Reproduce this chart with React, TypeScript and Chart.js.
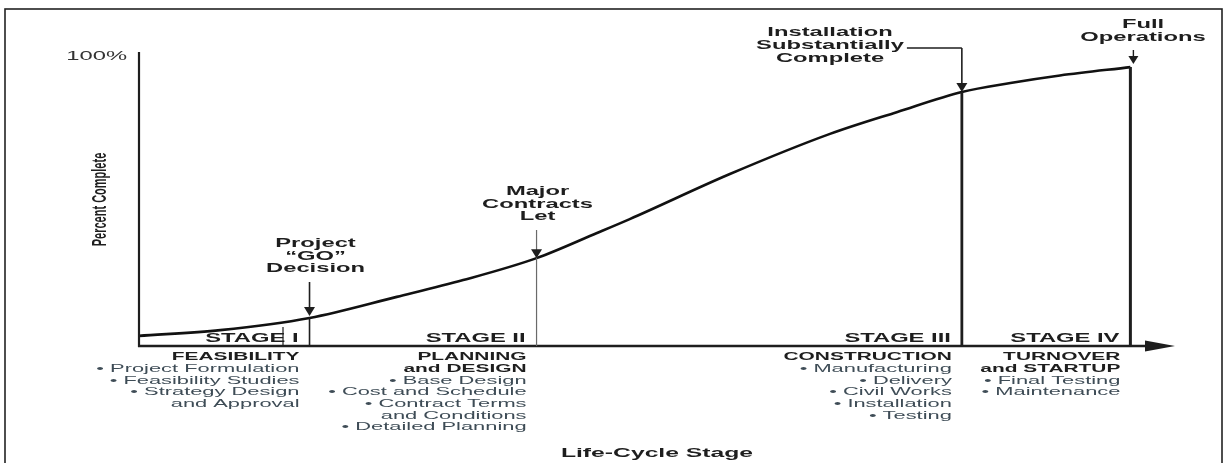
import React, { useEffect, useRef } from "react";
import { Chart, registerables } from "chart.js";

Chart.register(...registerables);

// ---- data ----
const curveX = [0, 8.2, 17.2, 26.0, 32.7, 40.1, 46.2, 49.5, 59.6, 69.7, 76.5, 83.0, 87.9, 92.9, 100];
const curveY = [3.5, 5.5, 9.7, 17.0, 22.8, 30.4, 39.1, 43.9, 59.5, 73.4, 81.0, 87.9, 91.0, 93.6, 96.5];

const milestoneX = [17.2, 40.1, 83.0, 100];
const goLabel = ["Project", "\u201CGO\u201D", "Decision"];
const majorLabel = ["Major", "Contracts", "Let"];
const installLabel = ["Installation", "Substantially", "Complete"];
const fullLabel = ["Full", "Operations"];

const stageLabels = ["STAGE I", "STAGE II", "STAGE III", "STAGE IV"];
const stage1Titles = ["FEASIBILITY"];
const stage1Items = ["\u2022 Project Formulation", "\u2022 Feasibility Studies", "\u2022 Strategy Design", "and Approval"];
const stage2Titles = ["PLANNING", "and DESIGN"];
const stage2Items = ["\u2022 Base Design", "\u2022 Cost and Schedule", "\u2022 Contract Terms", "and Conditions", "\u2022 Detailed Planning"];
const stage3Titles = ["CONSTRUCTION"];
const stage3Items = ["\u2022 Manufacturing", "\u2022 Delivery", "\u2022 Civil Works", "\u2022 Installation", "\u2022 Testing"];
const stage4Titles = ["TURNOVER", "and STARTUP"];
const stage4Items = ["\u2022 Final Testing", "\u2022 Maintenance"];

const yTickLabel = "100%";
const yTitle = "Percent Complete";
const xTitle = "Life-Cycle Stage";

const X_MAX = 104.5;

// ---- drawing helpers ----
const SX = 1.9;
const FONT = '"Liberation Sans", Arial, Helvetica, sans-serif';
const DARK = "#1e1e1e";
const SOFT = "#3e4c56";

function txt(ctx: CanvasRenderingContext2D, s: string, x: number, y: number, size: number, bold: boolean, color: string, align: CanvasTextAlign) {
  ctx.save();
  ctx.translate(x, y);
  ctx.scale(SX, 1);
  ctx.font = `${bold ? "bold " : ""}${size}px ${FONT}`;
  ctx.fillStyle = color;
  ctx.textAlign = align;
  ctx.textBaseline = "middle";
  ctx.fillText(s, 0, 0);
  ctx.restore();
}
function textW(ctx: CanvasRenderingContext2D, s: string, size: number, bold: boolean) {
  ctx.save();
  ctx.font = `${bold ? "bold " : ""}${size}px ${FONT}`;
  const w = ctx.measureText(s).width * SX;
  ctx.restore();
  return w;
}
function line(ctx: CanvasRenderingContext2D, x1: number, y1: number, x2: number, y2: number, w: number, color = DARK) {
  ctx.save();
  ctx.beginPath();
  ctx.moveTo(x1, y1);
  ctx.lineTo(x2, y2);
  ctx.lineWidth = w;
  ctx.strokeStyle = color;
  ctx.stroke();
  ctx.restore();
}
function arrowDown(ctx: CanvasRenderingContext2D, x: number, tipY: number, h = 9, hw = 5.5) {
  ctx.save();
  ctx.beginPath();
  ctx.moveTo(x, tipY);
  ctx.lineTo(x - hw, tipY - h);
  ctx.lineTo(x + hw, tipY - h);
  ctx.closePath();
  ctx.fillStyle = DARK;
  ctx.fill();
  ctx.restore();
}
function curveAt(x: number) {
  for (let i = 0; i < curveX.length - 1; i++) {
    if (x >= curveX[i] && x <= curveX[i + 1]) {
      const t = (x - curveX[i]) / (curveX[i + 1] - curveX[i]);
      return curveY[i] + t * (curveY[i + 1] - curveY[i]);
    }
  }
  return curveY[curveY.length - 1];
}

const decorPlugin = {
  id: "decor",
  beforeDraw(chart: any) {
    const ctx: CanvasRenderingContext2D = chart.ctx;
    ctx.save();
    ctx.fillStyle = "#ffffff";
    ctx.fillRect(0, 0, chart.width, chart.height);
    ctx.restore();
  },
  afterDatasetsDraw(chart: any) {
    const ctx: CanvasRenderingContext2D = chart.ctx;
    const xs = chart.scales.x, ys = chart.scales.y;
    const px = (v: number) => xs.getPixelForValue(v);
    const py = (v: number) => ys.getPixelForValue(v);
    const x0 = px(0);
    const yAxis = py(0);
    const y100 = py(100);
    const xEnd = xs.right;

    // outer frame
    ctx.save();
    ctx.strokeStyle = "#222";
    ctx.lineWidth = 1.6;
    ctx.strokeRect(5, 9, 1217, 470);
    ctx.restore();

    // axes
    line(ctx, x0, y100 - 5, x0, yAxis + 1, 2.2);
    line(ctx, x0 - 1, yAxis, xEnd - 26, yAxis, 2.4);
    ctx.save();
    ctx.beginPath();
    ctx.moveTo(xEnd, yAxis);
    ctx.lineTo(xEnd - 30, yAxis - 5.5);
    ctx.lineTo(xEnd - 30, yAxis + 5.5);
    ctx.closePath();
    ctx.fillStyle = DARK;
    ctx.fill();
    ctx.restore();

    // y tick + titles
    txt(ctx, yTickLabel, x0 - 12, y100, 12.5, false, "#333", "right");
    ctx.save();
    ctx.translate(x0 - 39, (y100 + yAxis) / 2 - 2);
    ctx.rotate(-Math.PI / 2);
    ctx.scale(1, SX);
    ctx.font = `bold 11px ${FONT}`;
    ctx.fillStyle = DARK;
    ctx.textAlign = "center";
    ctx.textBaseline = "middle";
    ctx.fillText(yTitle, 0, 0);
    ctx.restore();
    txt(ctx, xTitle, 657, 453, 13, true, DARK, "center");

    // milestone lines
    const [mGo, mMaj, mIns, mFull] = milestoneX;
    const gx = px(mGo), gy = py(curveAt(mGo));
    line(ctx, gx, gy, gx, yAxis, 1.6);
    line(ctx, gx, 282, gx, gy - 6, 1.6);
    arrowDown(ctx, gx, gy - 2);
    goLabel.forEach((s, i) => txt(ctx, s, gx + 6, 244 + i * 12.5, 12.5, true, DARK, "center"));

    const mx = px(mMaj), my = py(curveAt(mMaj));
    line(ctx, mx, 230, mx, yAxis, 1.2, "#6a6a6a");
    arrowDown(ctx, mx, my);
    majorLabel.forEach((s, i) => txt(ctx, s, mx + 1, 192 + i * 12.2, 12.5, true, DARK, "center"));

    const ix = px(mIns), iy = py(curveAt(mIns));
    line(ctx, ix, iy, ix, yAxis, 2.8);
    const insCx = 830;
    installLabel.forEach((s, i) => txt(ctx, s, insCx, 33 + i * 13, 12.5, true, DARK, "center"));
    const leadStart = insCx + textW(ctx, installLabel[1], 12.5, true) / 2 + 3;
    line(ctx, leadStart, 48, ix, 48, 1.3);
    line(ctx, ix, 48, ix, iy - 4, 1.6);
    arrowDown(ctx, ix, iy);

    const fx = px(mFull), fy = py(curveAt(mFull));
    line(ctx, fx, fy, fx, yAxis, 3);
    line(ctx, fx + 3, 50, fx + 3, fy - 8, 1.4);
    arrowDown(ctx, fx + 3, fy - 3, 8, 5);
    fullLabel.forEach((s, i) => txt(ctx, s, 1143, 25 + i * 13, 12.5, true, DARK, "center"));

    // small tick inside STAGE I
    line(ctx, 283, 327, 283, yAxis, 1.2);

    // stage labels and descriptions
    const blocks = [
      [stage1Titles, stage1Items],
      [stage2Titles, stage2Items],
      [stage3Titles, stage3Items],
      [stage4Titles, stage4Items],
    ];
    milestoneX.forEach((m, k) => {
      const r = px(m) - 11;
      txt(ctx, stageLabels[k], r, yAxis - 7, 12.5, true, DARK, "right");
      const [titles, items] = blocks[k];
      let ln = 0;
      titles.forEach((s) => { txt(ctx, s, r + 1, yAxis + 11 + ln * 11.7, 11, true, DARK, "right"); ln++; });
      items.forEach((s) => { txt(ctx, s, r + 1, yAxis + 11 + ln * 11.7, 11.5, false, SOFT, "right"); ln++; });
    });
  },
};

export default function App() {
  const ref = useRef<HTMLCanvasElement>(null);
  useEffect(() => {
    document.body.style.margin = "0";
    const canvas = ref.current!;
    const chart = new Chart(canvas, {
      type: "line",
      data: {
        datasets: [
          {
            label: yTitle,
            data: curveX.map((x, i) => ({ x, y: curveY[i] })),
            borderColor: "#111",
            borderWidth: 2.6,
            pointRadius: 0,
            cubicInterpolationMode: "monotone",
            fill: false,
          },
        ],
      },
      options: {
        responsive: false,
        animation: false,
        events: [],
        layout: { padding: { left: 139, right: 51, top: 57, bottom: 117 } },
        plugins: { legend: { display: false }, tooltip: { enabled: false }, title: { display: false } },
        scales: {
          x: { type: "linear", min: 0, max: X_MAX, display: false },
          y: { type: "linear", min: 0, max: 100, display: false },
        },
      },
      plugins: [decorPlugin],
    } as any);
    return () => chart.destroy();
  }, []);
  return (
    <div style={{ width: 1226, height: 463, position: "relative", overflow: "hidden" }}>
      <canvas ref={ref} width={1226} height={463} style={{ display: "block" }} />
    </div>
  );
}
